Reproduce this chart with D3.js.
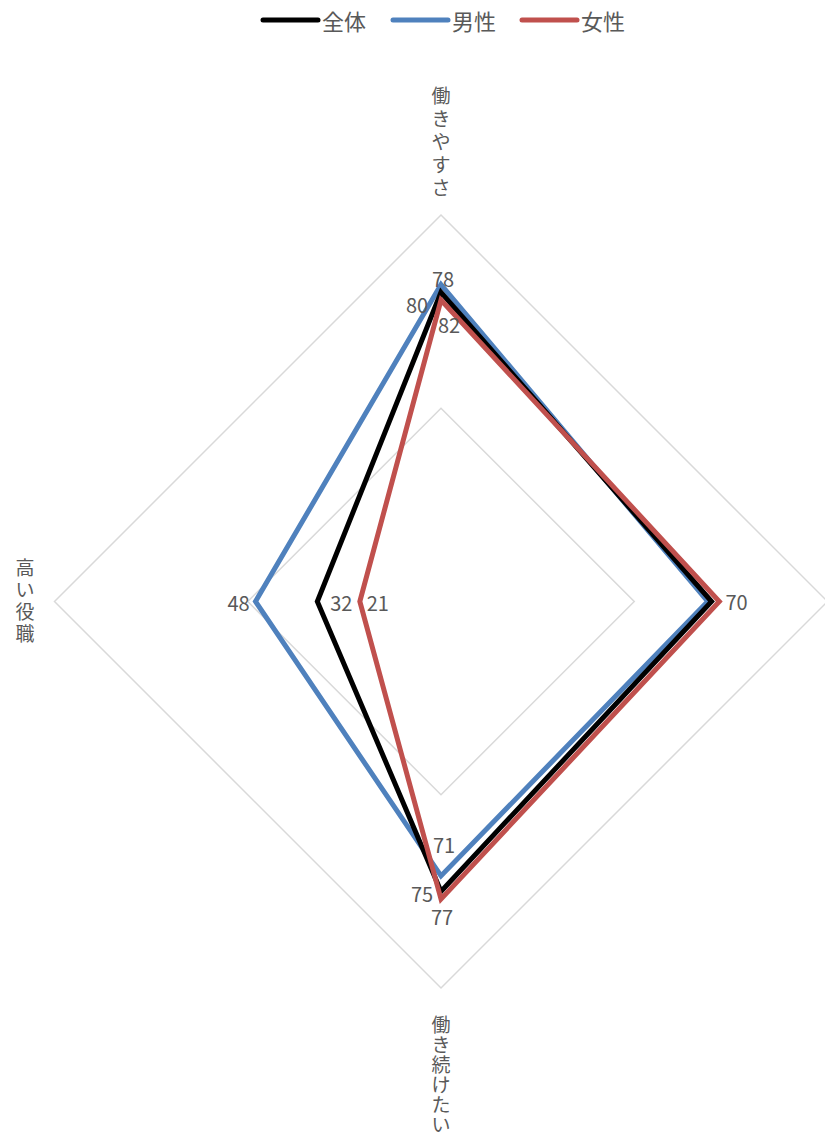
<!DOCTYPE html>
<html><head><meta charset="utf-8">
<script src="https://cdn.jsdelivr.net/npm/d3@7/dist/d3.min.js"></script>
<style>body{margin:0;background:#fff}svg{display:block}</style>
</head><body><svg id="c" width="825" height="1141"></svg>
<script>
const axisNames = ["働きやすさ", "", "働き続けたい", "高い役職"];
const seriesNames = ["全体", "男性", "女性"];
const seriesColors = ["#000000", "#4f81bd", "#c0504d"];
const totalValues = [80, 70, 75, 32];
const maleValues = [82, 69, 71, 48];
const femaleValues = [78, 72, 77, 21];
const gridTicks = [50, 100];
const labelShow = [[true, true, true, true], [true, false, true, true], [true, false, true, true]];
const seriesValues = [totalValues, maleValues, femaleValues];

const svg = d3.select("#c");
const cx = 441, cy = 601.5, R = 386.5;
const r = d3.scaleLinear().domain([0, 100]).range([0, R]);
const angle = i => -Math.PI / 2 + i * Math.PI / 2;
const pt = (i, v) => [cx + r(v) * Math.cos(angle(i)), cy + r(v) * Math.sin(angle(i))];

const labelOffsets = [
  [[-24, 12], [25, 0], [-19, 2], [24, 1]],
  [[8, 40], null, [3, -31], [-17, 1]],
  [[2, -22], null, [1, 17], [18, 1]]
];

gridTicks.forEach(t => {
  svg.append("path")
    .attr("d", d3.line()(axisNames.map((a, i) => pt(i, t))) + "Z")
    .attr("fill", "none").attr("stroke", "#d9d9d9").attr("stroke-width", 1.5);
});

[1, 0, 2].forEach(s => {
  svg.append("path")
    .attr("d", d3.line()(seriesValues[s].map((v, i) => pt(i, v))) + "Z")
    .attr("fill", "none").attr("stroke", seriesColors[s]).attr("stroke-width", 5)
    .attr("stroke-linejoin", "miter");
});

const font = "'Noto Sans CJK JP', 'Noto Sans', sans-serif";
[0, 1, 2].forEach(s => {
  seriesValues[s].forEach((v, i) => {
    if (!labelShow[s][i]) return;
    const p = pt(i, v);
    const off = labelOffsets[s][i];
    svg.append("text").attr("x", p[0] + off[0]).attr("y", p[1] + off[1])
      .attr("text-anchor", "middle").attr("dominant-baseline", "central")
      .attr("font-family", font).attr("font-size", 20).attr("fill", "#595959")
      .text(v);
  });
});

// vertical axis names, one character per line
const axisPos = [[441, 94, 23], null, [441, 1023, 20], [25, 566, 22]];
axisNames.forEach((name, i) => {
  if (!name) return;
  const [x, y0, step] = axisPos[i];
  Array.from(name).forEach((ch, k) => {
    svg.append("text").attr("x", x).attr("y", y0 + k * step)
      .attr("text-anchor", "middle").attr("dominant-baseline", "central")
      .attr("font-family", font).attr("font-size", 19).attr("fill", "#595959")
      .text(ch);
  });
});

const legX = [263, 393, 522];
seriesNames.forEach((n, s) => {
  svg.append("line").attr("x1", legX[s]).attr("x2", legX[s] + 55)
    .attr("y1", 20).attr("y2", 20).attr("stroke", seriesColors[s])
    .attr("stroke-width", 5).attr("stroke-linecap", "round");
  svg.append("text").attr("x", legX[s] + 59).attr("y", 20)
    .attr("dominant-baseline", "central")
    .attr("font-family", font).attr("font-size", 22).attr("fill", "#595959")
    .text(n);
});
</script></body></html>
